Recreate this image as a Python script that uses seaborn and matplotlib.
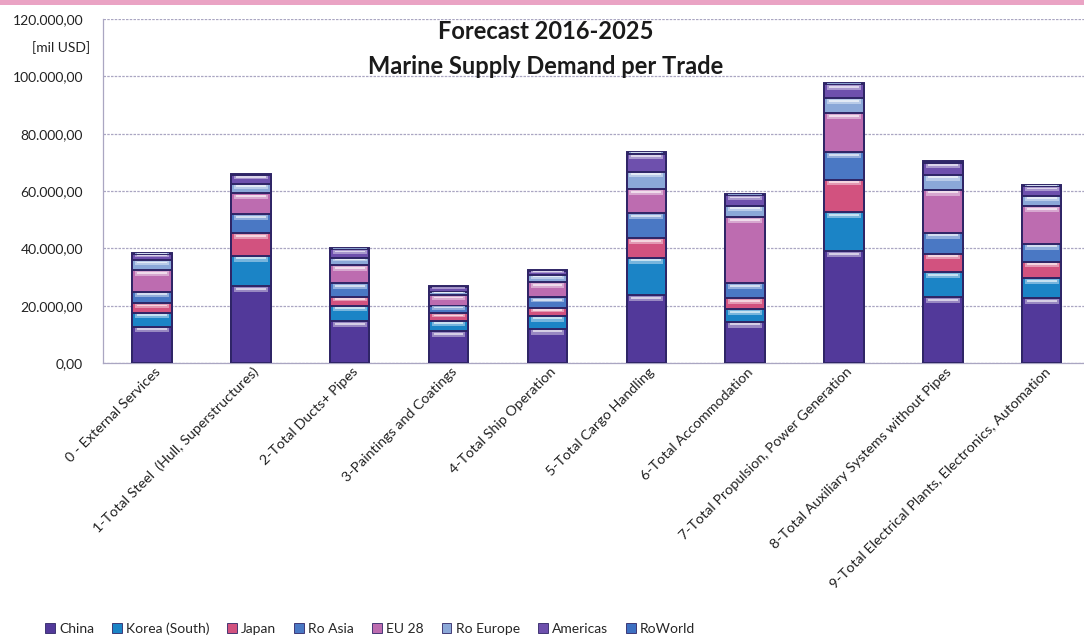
import numpy as np
import matplotlib
matplotlib.use("Agg")
import matplotlib.pyplot as plt
import matplotlib.colors as mcolors
import matplotlib.transforms as mtransforms
from matplotlib.patches import Rectangle, Patch
from matplotlib.ticker import FuncFormatter, FixedLocator
import seaborn as sns

# Trade categories on the x axis
categories = [
    "0 - External Services",
    "1-Total Steel  (Hull, Superstructures)",
    "2-Total Ducts+ Pipes",
    "3-Paintings and Coatings",
    "4-Total Ship Operation",
    "5-Total Cargo Handling",
    "6-Total Accommodation",
    "7-Total Propulsion, Power Generation",
    "8-Total Auxiliary Systems without Pipes",
    "9-Total Electrical Plants, Electronics, Automation",
]

# Demand per region, mil USD (stacked bottom to top)
china      = [12730, 26880, 14500, 11000, 11970, 23730, 14410, 38950, 22900, 22660]
korea      = [4870, 10540, 5560, 3720, 4520, 13020, 4440, 13610, 8680, 6940]
japan      = [3270, 7790, 3130, 2650, 2680, 6770, 3700, 11410, 6590, 5790]
ro_asia    = [4060, 6720, 4630, 2670, 3820, 8730, 5370, 9530, 7290, 6250]
eu28       = [7550, 7200, 6400, 3730, 5110, 8480, 22890, 13750, 15020, 13080]
ro_europe  = [3480, 3470, 2540, 1140, 2650, 6040, 4130, 5100, 5210, 3690]
americas   = [2000, 3100, 2900, 1700, 1450, 6300, 3650, 4850, 4200, 3200]
ro_world   = [330, 380, 340, 280, 290, 470, 390, 520, 450, 400]

series_names = ["China", "Korea (South)", "Japan", "Ro Asia", "EU 28",
                "Ro Europe", "Americas", "RoWorld"]
series_colors = ["#52399a", "#1b84c6", "#d2527f", "#4a78c4", "#bd6cb0",
                 "#8ba8d8", "#6e50ad", "#3d70c2"]

y_ticks = [0, 20000, 40000, 60000, 80000, 100000, 120000]

sns.set_theme(style="white")
plt.rcParams["font.family"] = ["Lato", "DejaVu Sans"]

fig = plt.figure(figsize=(10.84, 6.37), dpi=100)
ax = fig.add_axes([0.0946, 0.4301, 0.912, 0.5401])

values = np.array([china, korea, japan, ro_asia, eu28, ro_europe, americas, ro_world], dtype=float)
tops = np.cumsum(values, axis=0)

bar_w = 0.4
edge = "#2f2566"

# Stacked bars: draw cumulative totals from the top layer down so each
# lower layer covers the part beneath the previous one.
for k in reversed(range(len(series_names))):
    sns.barplot(x=categories, y=tops[k], order=categories, color=series_colors[k],
                saturation=1, width=bar_w, edgecolor=edge, linewidth=1.4,
                errorbar=None, ax=ax, zorder=3)

# Glossy highlight band near the top of each segment
for k in range(len(series_names)):
    base = np.array(mcolors.to_rgb(series_colors[k]))
    light = base + (1 - base) * 0.45
    shine = base + (1 - base) * 0.8
    for i in range(len(categories)):
        seg_top = tops[k][i]
        seg_h = values[k][i]
        gap = min(350.0, 0.12 * seg_h)
        hh = min(1700.0, 0.4 * seg_h)
        ax.add_patch(Rectangle((i - bar_w / 2 + 0.03, seg_top - gap - hh),
                               bar_w - 0.06, hh, facecolor=light, edgecolor="none",
                               alpha=0.9, zorder=4))
        ax.add_patch(Rectangle((i - bar_w / 2 + 0.05, seg_top - gap - hh * 0.55),
                               bar_w - 0.10, hh * 0.4, facecolor=shine, edgecolor="none",
                               alpha=0.9, zorder=5))

ax.set_ylim(0, 120000)
ax.set_xlim(-0.5, 9.5)
ax.yaxis.set_major_locator(FixedLocator(y_ticks))
ax.yaxis.set_major_formatter(FuncFormatter(
    lambda v, p: f"{v:,.2f}".replace(",", "X").replace(".", ",").replace("X", ".")))

grid_c = "#aaa6c2"
ax.grid(axis="y", color=grid_c, linestyle=(0, (2, 1)), linewidth=0.9, zorder=0)
ax.set_axisbelow(True)
for s in ["top", "right"]:
    ax.spines[s].set_visible(False)
for s in ["left", "bottom"]:
    ax.spines[s].set_color(grid_c)
    ax.spines[s].set_linewidth(0.9)

ax.set_xlabel("")
ax.set_ylabel("")
ax.tick_params(axis="y", length=4, color=grid_c, labelsize=10, labelcolor="#222222", pad=10)
ax.set_xticks(range(len(categories)))
ax.set_xticks(np.arange(-0.5, 10, 1.0), minor=True)
ax.tick_params(axis="x", which="major", length=0, pad=5)
ax.tick_params(axis="x", which="minor", length=4, color=grid_c, direction="out")
ax.set_xticklabels(categories, rotation=45, ha="right", va="center",
                   rotation_mode="anchor", fontsize=10.3, color="#222222")
shift = mtransforms.ScaledTranslation(4.5 / 72, 0, fig.dpi_scale_trans)
for lab in ax.get_xticklabels():
    lab.set_transform(lab.get_transform() + shift)

# Titles and unit
fig.text(0.503, 0.951, "Forecast 2016-2025", ha="center", va="center",
         fontsize=17, fontweight="bold", color="#1a1a1a")
fig.text(0.503, 0.895, "Marine Supply Demand per Trade", ha="center", va="center",
         fontsize=17, fontweight="bold", color="#1a1a1a")
fig.text(0.056, 0.925, "[mil USD]", ha="center", va="center", fontsize=10, color="#222222")

# Pink band along the top edge
fig.patches.append(Rectangle((0, 1 - 5 / 637), 1, 5 / 637, transform=fig.transFigure,
                             facecolor="#eaa3c4", edgecolor="none", zorder=0))

handles = [Patch(facecolor=c, edgecolor=edge, linewidth=0.6) for c in series_colors]
fig.legend(handles, series_names, loc="lower left", bbox_to_anchor=(0.03, -0.016),
           ncol=8, frameon=False, fontsize=10, handlelength=0.7, handleheight=0.7,
           handletextpad=0.3, columnspacing=1.3)

fig.savefig("out.png", dpi=100, facecolor="white")
